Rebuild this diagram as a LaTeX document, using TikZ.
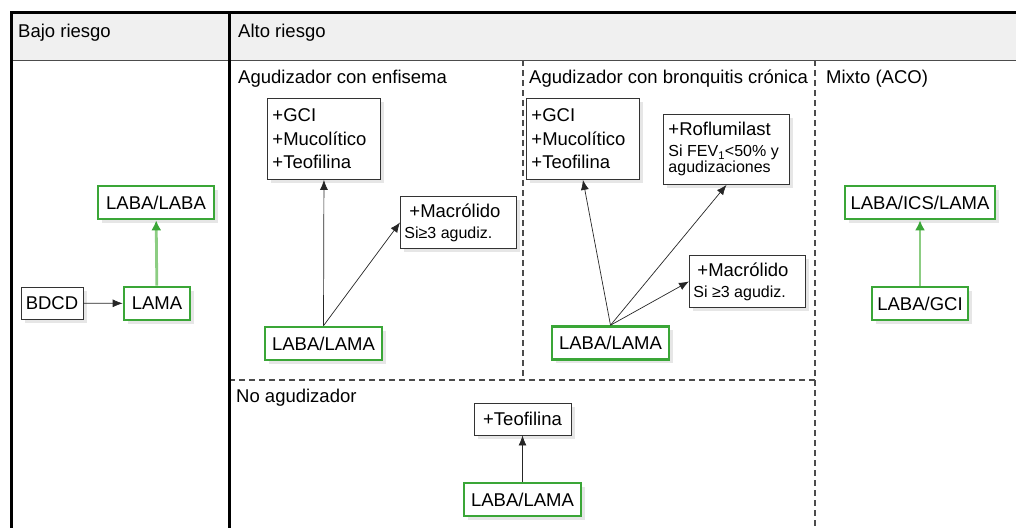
\documentclass[tikz,border=0pt]{standalone}
\usepackage{fontspec}
\setmainfont{Liberation Sans}
\usetikzlibrary{arrows.meta,shadows}
\definecolor{verde}{RGB}{58,166,55}
\definecolor{verdeclaro}{RGB}{140,205,130}
\definecolor{cabecera}{RGB}{240,240,240}
\newcommand{\chico}{\fontsize{16}{16}\selectfont}
\newcommand{\grande}{\fontsize{18.5}{23.5}\selectfont}
\newcommand{\bloque}[2]{\begin{minipage}{#1}\raggedright\grande #2\end{minipage}}
\tikzset{
    caja/.style={
           draw=black!80, line width=0.9pt,
           fill=white,
           inner sep=0pt,
           drop shadow={shadow xshift=3.5pt, shadow yshift=-3.5pt, opacity=0.2},
           font=\grande,
           },
}
\tikzset{
    primera/.style={
           caja,
           draw=verde, line width=2.6pt,
           },
}
\tikzset{
    lista/.style={
           caja,
           anchor=north west,
           inner xsep=5pt,
           },
}
\tikzset{
    titulo/.style={
           anchor=base west,
           inner sep=0pt,
           font=\grande,
           },
}
\tikzset{
    flecha/.style={-{Latex[length=10pt,width=8pt]}, line width=0.7pt, black!85},
    flechaverde/.style={-{Latex[length=10pt,width=10pt,color=verde]}, line width=2.8pt, verdeclaro},
    division/.style={black!70, line width=1.2pt, dash pattern=on 6pt off 4pt},
    marco/.style={black, line width=3pt},
}

\begin{document}
\begin{tikzpicture}[x=1pt,y=-1pt]
\useasboundingbox (0,0) rectangle (1016,528);
\fill[cabecera] (11,12) rectangle (1016,60);
\draw[black!70, line width=1pt] (11,60) -- (1016,60);
\draw[division] (523,60) -- (523,380);
\draw[division] (229,380) -- (815,380);
\draw[division] (815,60) -- (815,528);
\draw[marco] (1016,12) -- (11,12) -- (11,528);
\draw[marco] (229,12) -- (229,528);

\node[titulo] (bajo) at (18,37) {Bajo riesgo};
\node[titulo] (alto) at (238,37) {Alto riesgo};
\node[titulo] (enfisema) at (238,83) {Agudizador con enfisema};
\node[titulo] (bronquitis) at (529,83) {Agudizador con bronquitis crónica};
\node[titulo] (mixto) at (826,83) {Mixto (ACO)};
\node[titulo] (noagud) at (236,402) {No agudizador};

\node[caja, minimum width=62pt, minimum height=32pt] (bdcd) at (52,303) {BDCD};
\node[primera, minimum width=66pt, minimum height=33pt] (lama) at (157,303.5) {LAMA};
\node[primera, minimum width=116pt, minimum height=33pt] (labalaba) at (156,202.5) {LABA/LABA};

\node[lista, minimum width=113pt, minimum height=81pt] (gci1) at (267,98)
    {\bloque{103pt}{+GCI\\+Mucolítico\\+Teofilina}};
\node[lista, minimum width=116pt, minimum height=52pt, inner xsep=4pt] (macro1) at (400,196)
    {\bloque{108pt}{\hspace*{5pt}+Macrólido\par\vspace{5pt}\chico Si≥3 agudiz.}};
\node[primera, minimum width=117pt, minimum height=33pt] (labalama1) at (323.5,343.5) {LABA/LAMA};

\node[lista, minimum width=113pt, minimum height=81pt] (gci2) at (526,98)
    {\bloque{103pt}{+GCI\\+Mucolítico\\+Teofilina}};
\node[lista, minimum width=126pt, minimum height=70pt] (roflu) at (663,114)
    {\bloque{116pt}{+Roflumilast\par\vspace{5pt}\chico Si FEV\textsubscript{1}<50\% y\\agudizaciones}};
\node[lista, minimum width=116pt, minimum height=52pt, inner xsep=4pt] (macro2) at (689,255)
    {\bloque{108pt}{\hspace*{4pt}+Macrólido\par\vspace{5pt}\chico Si ≥3 agudiz.}};
\node[primera, minimum width=117pt, minimum height=33pt] (labalama2) at (610.5,343) {LABA/LAMA};

\node[caja, minimum width=97pt, minimum height=32pt] (teo) at (522.5,419) {+Teofilina};
\node[primera, minimum width=117pt, minimum height=33pt] (labalama3) at (522.5,499.5) {LABA/LAMA};

\node[primera, minimum width=150pt, minimum height=33pt] (icslama) at (920,202.5) {LABA/ICS/LAMA};
\node[primera, minimum width=96pt, minimum height=33pt] (labagci) at (920,303.5) {LABA/GCI};

\draw[flecha] (bdcd) -- (lama);
\draw[flechaverde] (lama) -- (labalaba);
\draw[flecha] (labalama1.north) -- (gci1.south);
\draw[flecha] (labalama1.north) -- (macro1.west);
\draw[flecha] (labalama2.north) -- (gci2.south);
\draw[flecha] (labalama2.north) -- (roflu.south);
\draw[flecha] (labalama2.north) -- (macro2.west);
\draw[flecha] (labalama3) -- (teo);
\draw[flechaverde] (labagci) -- (icslama);
\end{tikzpicture}
\end{document}
